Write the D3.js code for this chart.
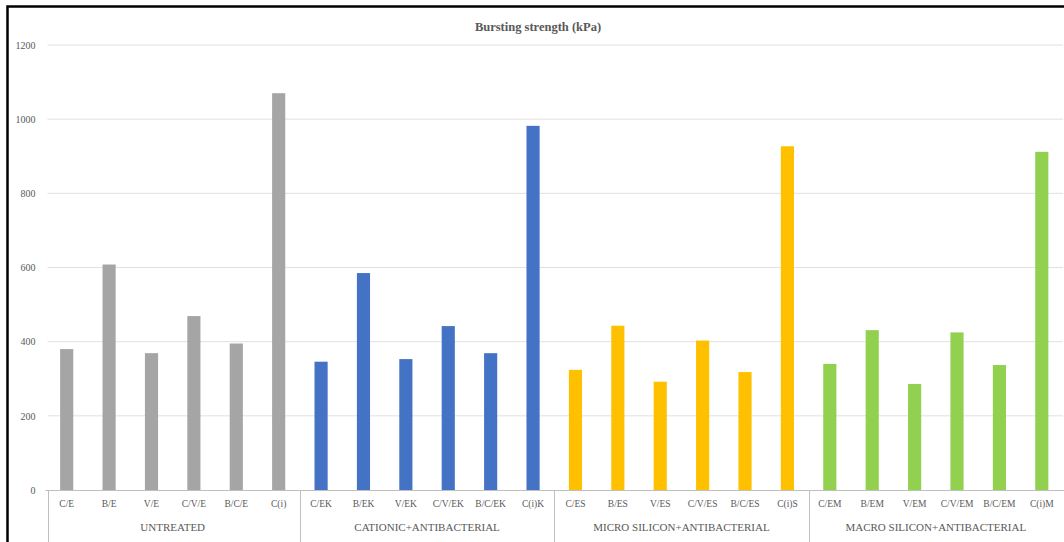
<!DOCTYPE html>
<html>
<head>
<meta charset="utf-8">
<script src="https://cdn.jsdelivr.net/npm/d3@7"></script>
<style>
  html, body { margin: 0; padding: 0; background: #fff; }
  svg { display: block; }
  text { font-family: "Liberation Serif", "Times New Roman", serif; fill: #595959; }
</style>
</head>
<body>
<svg id="chart" width="1064" height="542"></svg>
<script>
// Bursting strength (kPa) per fabric sample, grouped by finishing treatment
const groups = ["UNTREATED", "CATIONIC+ANTIBACTERIAL", "MICRO SILICON+ANTIBACTERIAL", "MACRO SILICON+ANTIBACTERIAL"];
const untreatedLabels = ["C/E", "B/E", "V/E", "C/V/E", "B/C/E", "C(i)"];
const cationicLabels  = ["C/EK", "B/EK", "V/EK", "C/V/EK", "B/C/EK", "C(i)K"];
const microLabels     = ["C/ES", "B/ES", "V/ES", "C/V/ES", "B/C/ES", "C(i)S"];
const macroLabels     = ["C/EM", "B/EM", "V/EM", "C/V/EM", "B/C/EM", "C(i)M"];
const untreatedValues = [380, 608, 369, 469, 395, 1070];
const cationicValues  = [346, 585, 353, 442, 369, 982];
const microValues     = [324, 443, 292, 403, 318, 927];
const macroValues     = [340, 431, 286, 425, 337, 912];
const groupColors = ["#a5a5a5", "#4472c4", "#ffc000", "#92d050"];
const yTicks = [0, 200, 400, 600, 800, 1000, 1200];

const labelSets = [untreatedLabels, cationicLabels, microLabels, macroLabels];
const valueSets = [untreatedValues, cationicValues, microValues, macroValues];
const rows = [];
labelSets.forEach((labels, g) => {
  labels.forEach((name, i) => rows.push({ key: g + ":" + name, name, group: g, value: valueSets[g][i] }));
});

const svg = d3.select("#chart");

// outer frame
svg.append("rect")
  .attr("x", 7.5).attr("y", 6.5)
  .attr("width", 1070).attr("height", 560)
  .attr("fill", "#fff").attr("stroke", "#000").attr("stroke-width", 2.5);

const plotLeft = 45.5, plotRight = 1063, plotTop = 45, plotBottom = 490;

const x = d3.scaleBand()
  .domain(rows.map(d => d.key))
  .range([plotLeft, plotRight])
  .paddingInner(0.69)
  .paddingOuter(0.345);

const y = d3.scaleLinear().domain([0, 1200]).range([plotBottom, plotTop]);

// horizontal gridlines
svg.append("g")
  .selectAll("line")
  .data(yTicks.filter(t => t > 0))
  .join("line")
  .attr("x1", plotLeft + 2).attr("x2", plotRight)
  .attr("y1", d => y(d)).attr("y2", d => y(d))
  .attr("stroke", "#e0e0e0").attr("stroke-width", 1);

// value axis labels
const yAxis = d3.axisLeft(y).tickValues(yTicks).tickFormat(d3.format("d")).tickSize(0).tickPadding(10);
const yg = svg.append("g").attr("transform", `translate(${plotLeft},0)`).call(yAxis);
yg.select(".domain").remove();
yg.selectAll("text")
  .style("font-family", "'Liberation Serif', serif")
  .style("font-size", "10px")
  .attr("fill", "#595959");

// bars
svg.append("g")
  .selectAll("rect")
  .data(rows)
  .join("rect")
  .attr("x", d => x(d.key))
  .attr("width", x.bandwidth())
  .attr("y", d => y(d.value))
  .attr("height", d => y(0) - y(d.value))
  .attr("fill", d => groupColors[d.group]);

// category axis line
svg.append("line")
  .attr("x1", plotLeft).attr("x2", plotRight + 2)
  .attr("y1", plotBottom + 0.5).attr("y2", plotBottom + 0.5)
  .attr("stroke", "#bfbfbf").attr("stroke-width", 1);

// category labels
const xAxis = d3.axisBottom(x).tickSize(0).tickPadding(10).tickFormat(k => k.split(":")[1]);
const xg = svg.append("g").attr("transform", `translate(0,${plotBottom})`).call(xAxis);
xg.select(".domain").remove();
xg.selectAll("text")
  .style("font-family", "'Liberation Serif', serif")
  .style("font-size", "9.5px")
  .attr("fill", "#595959");

// group separators and group labels
const groupStep = (plotRight - plotLeft) / groups.length;
svg.append("g")
  .selectAll("line")
  .data(d3.range(groups.length))
  .join("line")
  .attr("x1", g => Math.round(plotLeft + g * groupStep) + 0.5 + (g === 0 ? 2 : 0))
  .attr("x2", g => Math.round(plotLeft + g * groupStep) + 0.5 + (g === 0 ? 2 : 0))
  .attr("y1", plotBottom).attr("y2", 542)
  .attr("stroke", "#bfbfbf").attr("stroke-width", 1);

svg.append("g")
  .selectAll("text")
  .data(groups)
  .join("text")
  .attr("x", (d, g) => plotLeft + (g + 0.5) * groupStep)
  .attr("y", 531)
  .attr("text-anchor", "middle")
  .style("font-size", "11px")
  .text(d => d);

// title
svg.append("text")
  .attr("x", 538).attr("y", 31)
  .attr("text-anchor", "middle")
  .style("font-size", "12.5px")
  .style("font-weight", "bold")
  .attr("fill", "#262626")
  .text("Bursting strength (kPa)");
</script>
</body>
</html>
